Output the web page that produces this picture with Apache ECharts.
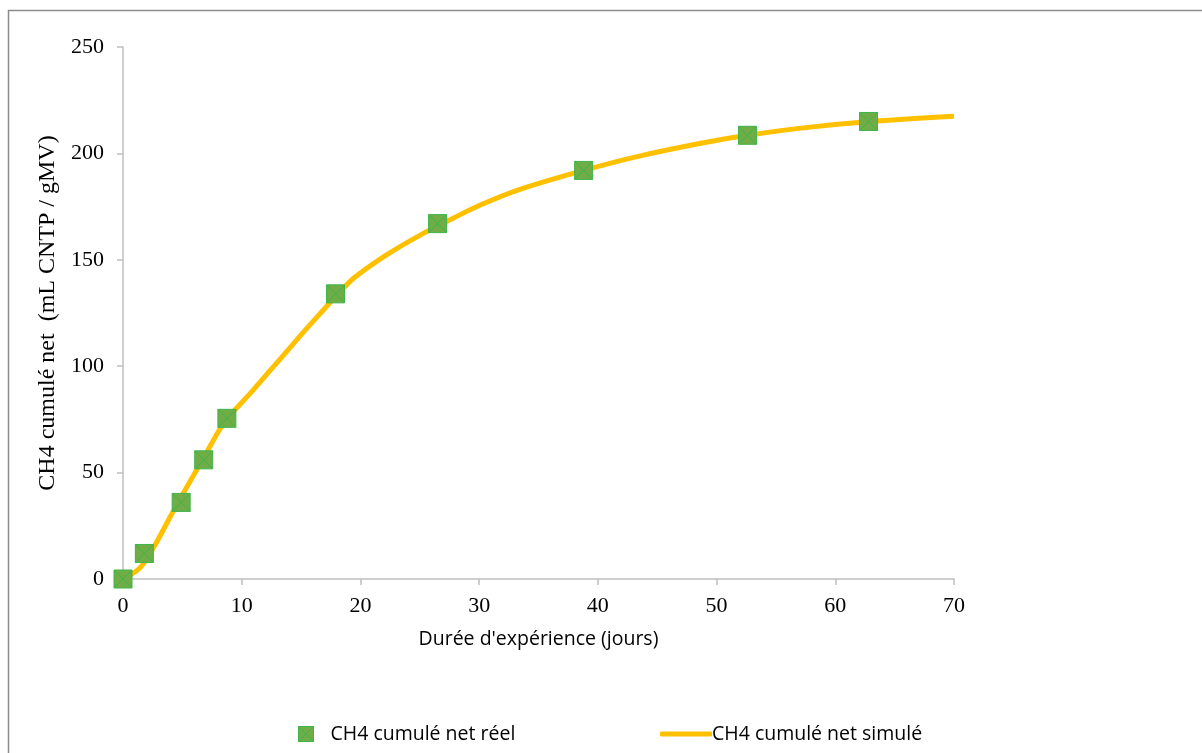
<!DOCTYPE html>
<html>
<head>
<meta charset="utf-8">
<script src="https://cdn.jsdelivr.net/npm/echarts@6/dist/echarts.min.js"></script>
<style>html,body{margin:0;padding:0;background:#fff}#c{width:1202px;height:753px}</style>
</head>
<body>
<div id="c"></div>
<script>
// Measured data (CH4 cumulé net réel)
const reelX = [0, 1.8, 4.9, 6.8, 8.75, 17.9, 26.5, 38.8, 52.6, 62.8];
const reelY = [0, 12, 36, 56, 75.5, 134, 167, 192, 208.5, 215];
// Simulated curve (CH4 cumulé net simulé)
const simX = [0, 1.4, 2.6, 4, 5.4, 6.8, 8, 8.8, 9.6, 11, 12.4, 13.8, 15.2, 16.6, 18, 19.4, 22.2, 25, 27.8, 30, 33.5, 38.8, 43.3, 48.9, 52.6, 57.3, 62.9, 70];
const simY = [0, 5, 15, 29.5, 43.5, 57, 69, 75.7, 80.5, 89, 98, 107, 116, 124.7, 133.2, 141.2, 152.3, 161.5, 169.5, 175.5, 183.2, 192, 198.5, 205, 208.5, 212, 215, 217.5];
const xTicks = {min: 0, max: 70, interval: 10};
const yTicks = {min: 0, max: 250, interval: 50};
const seriesNames = ['CH4 cumulé net réel', 'CH4 cumulé net simulé'];
const axisNames = {x: "Durée d'expérience (jours)", y: 'CH4 cumulé net  (mL CNTP / gMV)'};

const chart = echarts.init(document.getElementById('c'), null, {renderer: 'canvas'});
const markerPath = 'path://M0,0L10,0L10,10L0,10Z M0,0L10,10 M10,0L0,10';
const serif = '"Liberation Serif", "Times New Roman", serif';
const sans = '"Open Sans", "Liberation Sans", sans-serif';
chart.setOption({
  animation: false,
  backgroundColor: '#fff',
  graphic: [{
    type: 'rect', shape: {x: 8.5, y: 10.5, width: 1300, height: 800},
    style: {fill: null, stroke: '#8c8c8c', lineWidth: 1.5}, silent: true, z: -1
  }],
  grid: {left: 123, right: 248, top: 47, bottom: 174, containLabel: false},
  legend: [{
    data: [{name: seriesNames[0], icon: markerPath}],
    left: 293, top: 719, itemWidth: 15, itemHeight: 15, itemGap: 0,
    itemStyle: {color: '#70ad47', borderColor: '#3cb54a', borderWidth: 1},
    textStyle: {fontFamily: sans, fontSize: 19.5, color: '#000', padding: [0, 0, 0, 12]}
  }, {
    data: [{name: seriesNames[1], icon: 'roundRect'}],
    left: 655, top: 719, itemWidth: 52, itemHeight: 5,
    itemStyle: {color: '#ffc000', borderWidth: 0},
    textStyle: {fontFamily: sans, fontSize: 19.5, color: '#000', padding: [0, 0, 0, -5]}
  }],
  xAxis: {
    type: 'value', min: xTicks.min, max: xTicks.max, interval: xTicks.interval,
    name: axisNames.x, nameLocation: 'middle', nameGap: 50,
    nameTextStyle: {fontFamily: sans, fontSize: 19.5, color: '#000'},
    axisLine: {show: true, onZero: false, lineStyle: {color: '#bfbfbf', width: 1.5}},
    axisTick: {show: true, length: 6, lineStyle: {color: '#bfbfbf', width: 1.5}},
    axisLabel: {fontFamily: serif, fontSize: 22, color: '#000', margin: 16},
    splitLine: {show: false}
  },
  yAxis: {
    type: 'value', min: yTicks.min, max: yTicks.max, interval: yTicks.interval,
    name: axisNames.y, nameLocation: 'middle', nameGap: 58, nameRotate: 90,
    nameTextStyle: {fontFamily: serif, fontSize: 24, color: '#000'},
    axisLine: {show: true, lineStyle: {color: '#bfbfbf', width: 1.5}},
    axisTick: {show: true, length: 6, lineStyle: {color: '#bfbfbf', width: 1.5}},
    axisLabel: {fontFamily: serif, fontSize: 22, color: '#000', margin: 19},
    splitLine: {show: false}
  },
  series: [{
    name: seriesNames[1], type: 'line', smooth: 0.3, showSymbol: false,
    data: simX.map((x, i) => [x, simY[i]]),
    lineStyle: {color: '#ffc000', width: 5}, itemStyle: {color: '#ffc000'}, z: 2
  }, {
    name: seriesNames[0], type: 'scatter', symbol: markerPath, symbolSize: 18,
    data: reelX.map((x, i) => [x, reelY[i]]),
    itemStyle: {color: '#70ad47', borderColor: '#3cb54a', borderWidth: 1, opacity: 1}, z: 3
  }]
});
</script>
</body>
</html>
